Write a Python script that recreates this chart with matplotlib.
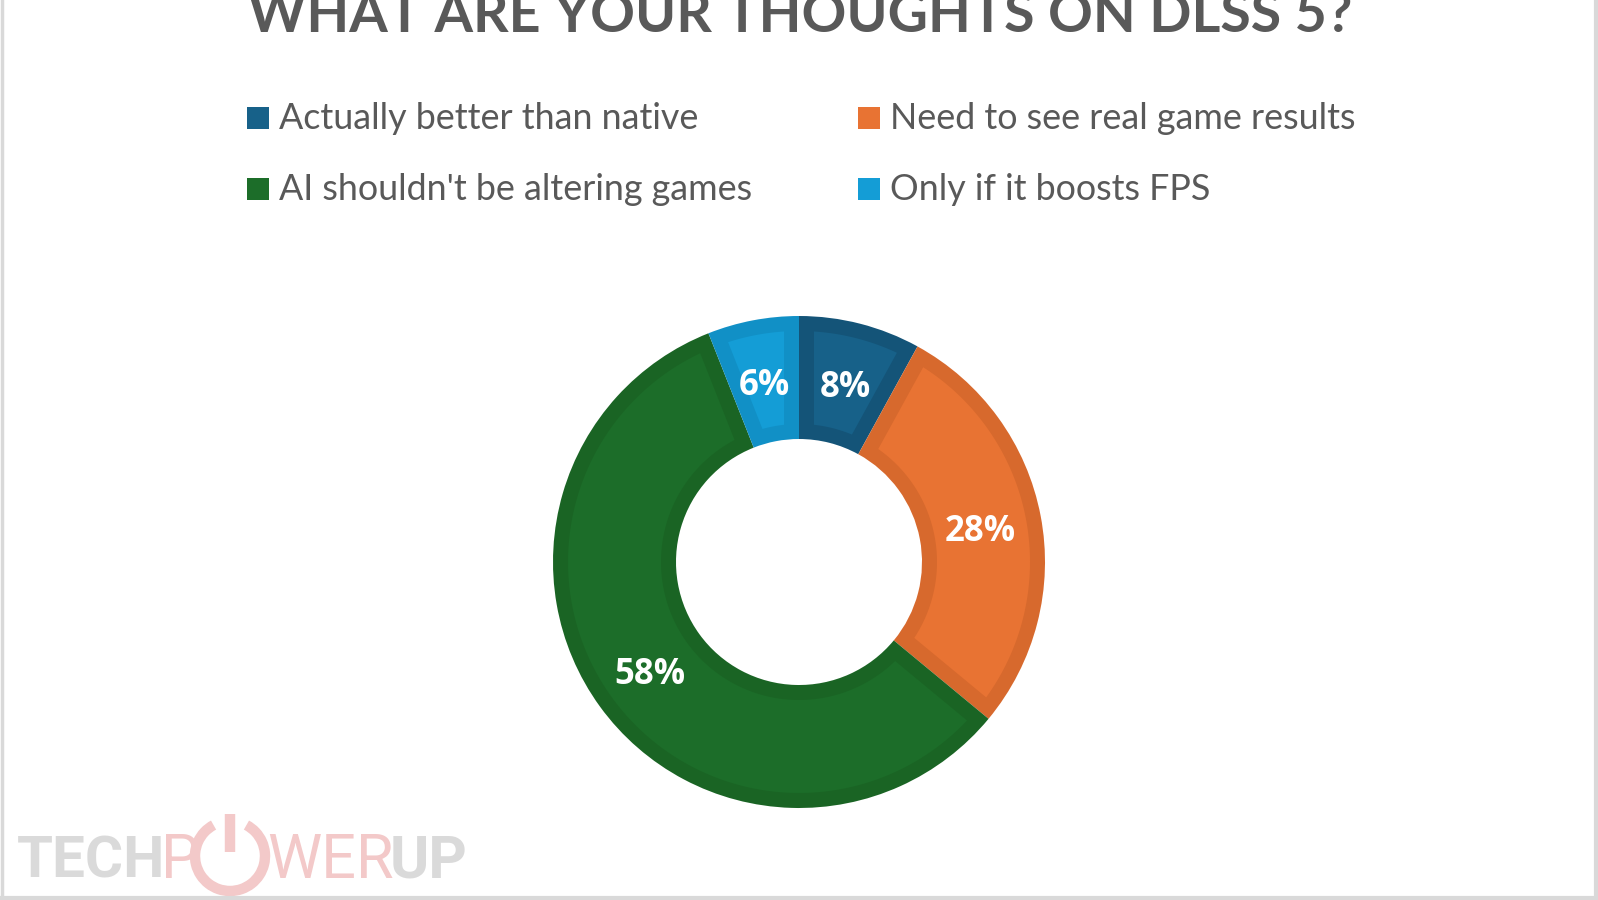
import numpy as np
import matplotlib
matplotlib.use("Agg")
import matplotlib.pyplot as plt
from matplotlib.patches import Rectangle, Arc, Polygon
from matplotlib.transforms import offset_copy

W, H = 1598, 900

labels = ["Actually better than native", "Need to see real game results",
          "AI shouldn't be altering games", "Only if it boosts FPS"]
shares = [8, 28, 58, 6]
fill_colors = ["#176189", "#e87333", "#1c6d29", "#149dd6"]
edge_colors = ["#145478", "#d7692d", "#1a6424", "#1190c6"]
title = "WHAT ARE YOUR THOUGHTS ON DLSS 5?"

fig = plt.figure(figsize=(W / 100, H / 100), dpi=100)
fig.patch.set_facecolor("white")

# background layer in pixel coordinates
bg = fig.add_axes([0, 0, 1, 1])
bg.set_xlim(0, W)
bg.set_ylim(H, 0)
bg.axis("off")

# frame (left, bottom, right)
frame_c = "#d9d9d9"
bg.plot([1.5, 1.5], [0, H], color=frame_c, lw=2.5)
bg.plot([0, W], [898, 898], color=frame_c, lw=3)
bg.plot([1596, 1596], [0, H], color=frame_c, lw=3)

# title (clipped at the top like the original)
bg.text(800, 32, title, ha="center", va="baseline", fontsize=40,
        fontweight="bold", family="Lato", color="#595959")

# legend, two columns
leg_x = [247, 858]
leg_y = [129, 200]
order = [0, 2, 1, 3]
for k, i in enumerate(order):
    col, row = k // 2, k % 2
    x0, yb = leg_x[col], leg_y[row]
    bg.add_patch(Rectangle((x0, yb - 22), 22, 22, facecolor=fill_colors[i],
                           edgecolor="none"))
    bg.text(x0 + 32, yb, labels[i], ha="left", va="baseline", fontsize=25.8,
            family="Lato", color="#595959")

# watermark
gray_c = "#dadada"
pink_c = "#f3c9c9"
bg.text(17, 878, "TECH", ha="left", va="baseline", fontsize=42,
        fontweight="bold", family="Roboto", color=gray_c)
bg.text(161, 878, "P", ha="left", va="baseline", fontsize=44,
        family="Roboto", color=pink_c)
bg.add_patch(Arc((230, 856), 70, 70, theta1=-62, theta2=242, color=pink_c,
                 lw=7.5))
bg.plot([230, 230], [814, 852], color=pink_c, lw=7.5, solid_capstyle="butt")
bg.text(267, 878, "WER", ha="left", va="baseline", fontsize=44,
        family="Roboto", color=pink_c)
bg.text(390, 878, "UP", ha="left", va="baseline", fontsize=43,
        fontweight="bold", family="Roboto", color=gray_c)

# donut
cx, cy, r = 799, 562, 246
ax = fig.add_axes([(cx - r) / W, (H - cy - r) / H, 2 * r / W, 2 * r / H])
ring = 0.5
wedges, texts, autotexts = ax.pie(
    shares, colors=edge_colors, startangle=90, counterclock=False,
    radius=1, pctdistance=0.75, autopct=lambda p: f"{p:.0f}%",
    wedgeprops=dict(width=ring, linewidth=0),
    textprops=dict(color="white", fontsize=25, fontweight="bold",
                   family="Open Sans", zorder=5))
for t in autotexts:
    t.set_transform(offset_copy(ax.transData, fig=fig, x=0, y=-5,
                                units="dots"))

# lighter inner panel of each slice (bevel look)
d = 15 / r
for w, fc in zip(wedges, fill_colors):
    ro, ri = 1 - d, 1 - ring + d
    ao = np.degrees(np.arcsin(d / ro))
    ai = np.degrees(np.arcsin(d / ri))
    t_out = np.radians(np.linspace(w.theta1 + ao, w.theta2 - ao, 120))
    t_in = np.radians(np.linspace(w.theta2 - ai, w.theta1 + ai, 120))
    pts = np.vstack([np.column_stack([ro * np.cos(t_out), ro * np.sin(t_out)]),
                     np.column_stack([ri * np.cos(t_in), ri * np.sin(t_in)])])
    ax.add_patch(Polygon(pts, closed=True, facecolor=fc, edgecolor="none",
                         zorder=2))
ax.set_xlim(-1, 1)
ax.set_ylim(-1, 1)
ax.axis("off")

fig.savefig("out.png", dpi=100, facecolor="white")
